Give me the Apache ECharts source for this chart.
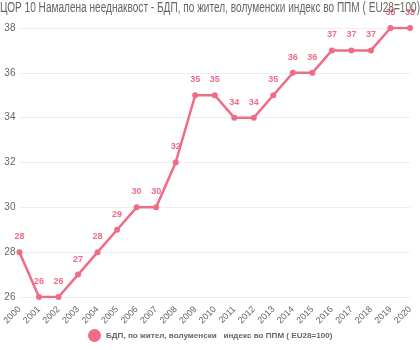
<!DOCTYPE html>
<html>
<head>
<meta charset="utf-8">
<script src="https://cdn.jsdelivr.net/npm/echarts@6/dist/echarts.min.js"></script>
<style>
html,body{margin:0;padding:0;background:#fff;}
#chart{width:420px;height:350px;}
</style>
</head>
<body>
<div id="chart"></div>
<script>
// Years on the category axis
const years = ['2000','2001','2002','2003','2004','2005','2006','2007','2008','2009','2010',
  '2011','2012','2013','2014','2015','2016','2017','2018','2019','2020'];
// GDP per capita, volume index in PPS (EU28 = 100)
const gdpIndex = [28,26,26,27,28,29,30,30,32,35,35,34,34,35,36,36,37,37,37,38,38];
const seriesName = 'БДП, по жител, волуменски   индекс во ППМ ( EU28=100)';
const titleText = 'ЦОР 10 Намалена нееднаквост - БДП, по жител, волуменски индекс во ППМ ( EU28=100)';

const lineColor = '#f06b85';
const chart = echarts.init(document.getElementById('chart'));
chart.setOption({
  animation: false,
  // condensed title drawn as a scaled text element, above the plot
  graphic: [{
    type: 'text',
    left: 0, top: 1,
    scaleX: 0.72,
    z: 100,
    style: {
      text: titleText,
      fontFamily: 'Liberation Sans, Arial, sans-serif',
      fontSize: 14,
      fill: '#666'
    }
  }],
  grid: {left: 19, right: 10, top: 28, bottom: 53},
  legend: {
    bottom: 3, left: 83,
    icon: 'circle', itemWidth: 13, itemHeight: 13,
    textStyle: {fontFamily: 'Liberation Sans, Arial, sans-serif', fontSize: 8.1, fontWeight: 'bold', color: '#666'},
    data: [seriesName]
  },
  xAxis: {
    type: 'category',
    data: years,
    boundaryGap: false,
    axisLine: {show: false},
    axisTick: {show: false},
    axisLabel: {rotate: 45, fontSize: 9, color: '#666', fontFamily: 'Liberation Sans, Arial, sans-serif', margin: 11}
  },
  yAxis: {
    type: 'value',
    min: 26, max: 38, interval: 2,
    axisLine: {show: false},
    axisTick: {show: false},
    axisLabel: {fontSize: 10, color: '#666', fontFamily: 'Liberation Sans, Arial, sans-serif', margin: 4},
    splitLine: {lineStyle: {color: '#eee'}}
  },
  series: [{
    name: seriesName,
    type: 'line',
    data: gdpIndex,
    color: lineColor,
    lineStyle: {width: 2.5, color: lineColor},
    symbol: 'circle', symbolSize: 6,
    itemStyle: {color: lineColor},
    label: {show: true, position: 'top', distance: 8, fontSize: 9, fontWeight: 'bold', color: lineColor,
      fontFamily: 'Liberation Sans, Arial, sans-serif'}
  }]
});
</script>
</body>
</html>
